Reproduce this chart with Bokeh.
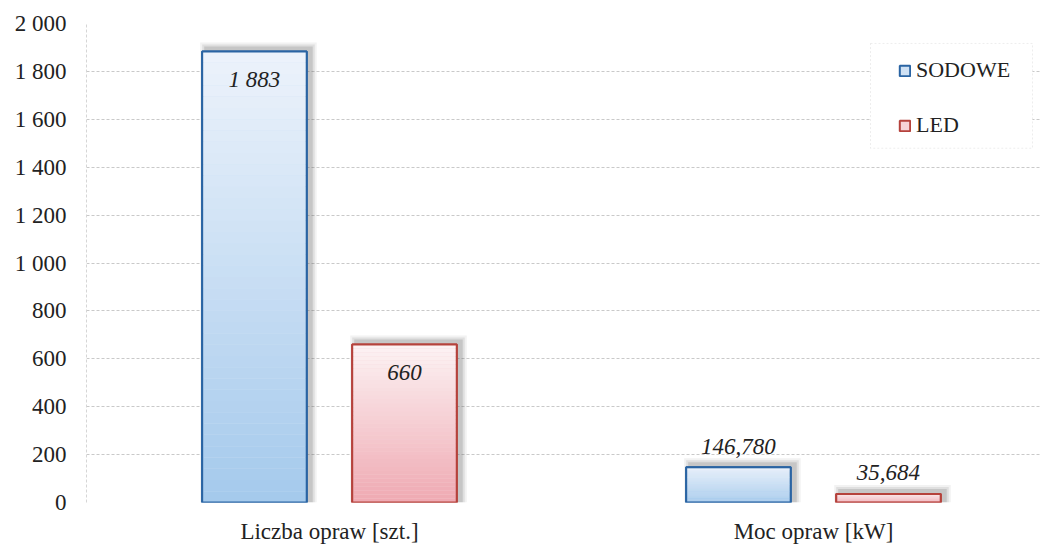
import numpy as np
from bokeh.plotting import figure
from bokeh.models import (Range1d, FixedTicker, Legend, LegendItem, ColumnDataSource,
                          BoxAnnotation)
from bokeh.core.properties import value
from bokeh.embed import file_html
from bokeh.resources import INLINE

# ---- data ----
categories = ["Liczba opraw [szt.]", "Moc opraw [kW]"]
series = ["SODOWE", "LED"]
sodowe = [1883, 146.780]
led = [660, 35.684]
sodowe_labels = ["1 883", "146,780"]
led_labels = ["660", "35,684"]
y_ticks = [0, 200, 400, 600, 800, 1000, 1200, 1400, 1600, 1800, 2000]
y_tick_labels = ["0", "200", "400", "600", "800", "1 000", "1 200", "1 400",
                 "1 600", "1 800", "2 000"]

# ---- style ----
FONT = "Liberation Serif"
TXT = "#222222"
W, H = 1043, 546
MB_L, MB_R, MB_T, MB_B = 86, 3, 23, 43
PX_PER_CAT = 484
X_START = -0.002
X_END = X_START + (W - MB_L - MB_R) / PX_PER_CAT
Y_START, Y_END = 0, 2000
frame_w = W - MB_L - MB_R
frame_h = H - MB_T - MB_B
px_x = (X_END - X_START) / frame_w   # data units per px (x)
px_y = (Y_END - Y_START) / frame_h   # data units per px (y)

BAR_W = 0.216
DODGE = 0.155

styles = {
    "SODOWE": dict(line="#2a64a3", bottom="#a4c9ec", top="#edf3fb", legend_fill="#cfe1f4"),
    "LED": dict(line="#b5423c", bottom="#efa9b2", top="#fcf3f4", legend_fill="#f6d3d7"),
}

p = figure(width=W, height=H, output_backend="svg", toolbar_location=None,
           x_range=Range1d(X_START, X_END), y_range=Range1d(Y_START, Y_END),
           min_border_left=MB_L, min_border_right=MB_R,
           min_border_top=MB_T, min_border_bottom=MB_B)
p.outline_line_color = None
p.background_fill_color = "white"
p.border_fill_color = "white"

# grid
p.xgrid.grid_line_color = None
p.ygrid.grid_line_color = "#c9c9c9"
p.ygrid.grid_line_dash = "3 2"
p.ygrid.grid_line_width = 1

# y axis
p.yaxis.ticker = FixedTicker(ticks=y_ticks)
p.yaxis.major_label_overrides = {t: l for t, l in zip(y_ticks, y_tick_labels)}
p.yaxis.axis_line_color = "#d6d6d6"
p.yaxis.axis_line_dash = "3 2"
p.yaxis.major_tick_line_color = None
p.yaxis.minor_tick_line_color = None
p.yaxis.major_tick_out = 0
p.yaxis.minor_tick_out = 0
p.yaxis.major_label_standoff = 20
p.yaxis.major_label_text_font = FONT
p.yaxis.major_label_text_font_size = "23px"
p.yaxis.major_label_text_color = TXT

# x axis
centers = [i + 0.5 for i in range(len(categories))]
p.xaxis.ticker = FixedTicker(ticks=centers)
p.xaxis.major_label_overrides = {c: l for c, l in zip(centers, categories)}
p.xaxis.axis_line_color = None
p.xaxis.major_tick_line_color = None
p.xaxis.minor_tick_line_color = None
p.xaxis.major_tick_out = 0
p.xaxis.minor_tick_out = 0
p.xaxis.major_label_standoff = 16
p.xaxis.major_label_text_font = FONT
p.xaxis.major_label_text_font_size = "23px"
p.xaxis.major_label_text_color = TXT


def hex2rgb(h):
    h = h.lstrip("#")
    return np.array([int(h[i:i + 2], 16) for i in (0, 2, 4)], dtype=float)


def mix(c1, c2, t):
    c = hex2rgb(c1) * (1 - t) + hex2rgb(c2) * t
    return "#%02x%02x%02x" % tuple(int(round(v)) for v in c)


legend_renderers = {}
N = 40
for name, vals, labels, off in [("SODOWE", sodowe, sodowe_labels, -DODGE),
                                ("LED", led, led_labels, DODGE)]:
    st = styles[name]
    xs = [c + off for c in centers]
    vals = list(vals)
    # soft shadow (offset up/right, blurred)
    for d, a in [(6, 0.08), (4, 0.12), (2, 0.18)]:
        p.vbar(x=[x + 4 * px_x for x in xs], width=BAR_W + 2 * d * px_x,
               bottom=0, top=[v + (3 + d) * px_y for v in vals],
               fill_color="#5a5a5a", fill_alpha=a, line_color=None)
    # base (used for legend)
    base = p.vbar(x=xs, width=BAR_W, bottom=0, top=vals,
                  fill_color=st["legend_fill"], line_color=st["line"], line_width=2)
    legend_renderers[name] = base
    # gradient strips
    sx, sb, st_, sc = [], [], [], []
    for x, v in zip(xs, vals):
        for k in range(N):
            sx.append(x)
            sb.append(v * k / N)
            st_.append(v * (k + 1) / N)
            sc.append(mix(st["bottom"], st["top"], (k + 0.5) / N))
    p.vbar(x="x", width=BAR_W, bottom="b", top="t", fill_color="c", line_color=None,
           source=ColumnDataSource(dict(x=sx, b=sb, t=st_, c=sc)))
    # outline on top
    p.vbar(x=xs, width=BAR_W, bottom=0, top=vals, fill_color=None,
           line_color=st["line"], line_width=2)
    # data labels
    yoff = [28 if v > 300 else -21 for v in vals]
    p.text(x=xs, y=vals, text=labels, y_offset=yoff,
           text_font=value(FONT), text_font_style="italic", text_font_size="23px",
           text_color=TXT, text_align="center", text_baseline="middle")

# legend frame (px -> data units)
LG_L, LG_R, LG_T, LG_B = 870, 1032, 43, 148
frame_bottom_px = MB_T + frame_h
box = BoxAnnotation(left=X_START + (LG_L - MB_L) * px_x, right=X_START + (LG_R - MB_L) * px_x,
                    top=(frame_bottom_px - LG_T) * px_y, bottom=(frame_bottom_px - LG_B) * px_y,
                    fill_color="white", fill_alpha=1.0,
                    line_color="#c4c4c4", line_dash="2 2", line_width=1)
p.add_layout(box)

legend = Legend(items=[LegendItem(label=s, renderers=[legend_renderers[s]]) for s in series],
                location=(812, frame_bottom_px - 139), orientation="vertical",
                padding=0, spacing=29, glyph_width=13, glyph_height=13,
                label_standoff=5, label_width=90, label_height=24,
                label_text_font=FONT, label_text_font_size="22px", label_text_color=TXT,
                border_line_color=None, background_fill_alpha=0.0)
p.add_layout(legend, "center")

open("out.html", "w").write(file_html(p, INLINE))
